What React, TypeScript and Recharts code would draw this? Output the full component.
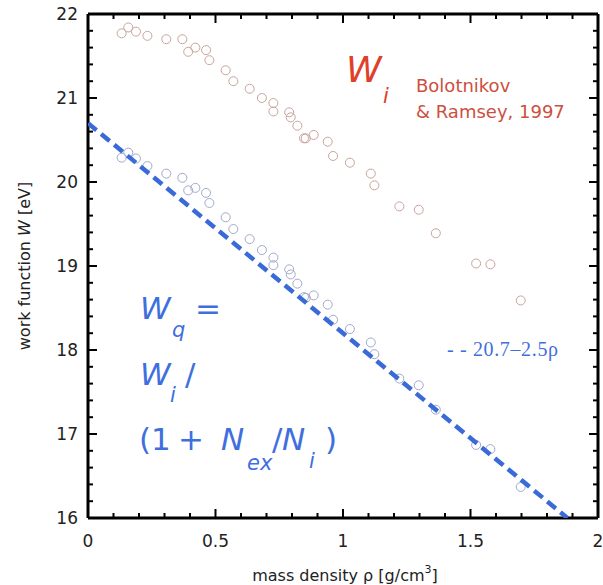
import { ScatterChart, Scatter, XAxis, YAxis } from 'recharts';

// mass density (g/cm3), shared by both sets of points
const rho = [
  0.132, 0.158, 0.188, 0.233, 0.307, 0.37, 0.393, 0.421, 0.463, 0.476, 0.54,
  0.57, 0.634, 0.682, 0.727, 0.727, 0.789, 0.795, 0.821, 0.847, 0.854, 0.885,
  0.94, 0.961, 1.027, 1.109, 1.123, 1.221, 1.297, 1.364, 1.522, 1.578, 1.697,
];
// W_i, Bolotnikov & Ramsey 1997
const wIon = [
  21.77, 21.84, 21.79, 21.74, 21.7, 21.7, 21.55, 21.6, 21.57, 21.45, 21.33,
  21.2, 21.11, 21.0, 20.94, 20.84, 20.83, 20.77, 20.67, 20.52, 20.52, 20.56,
  20.48, 20.31, 20.23, 20.1, 19.96, 19.71, 19.67, 19.39, 19.03, 19.02, 18.59,
];
// W_q
const wQuasi = [
  20.29, 20.35, 20.28, 20.19, 20.1, 20.05, 19.9, 19.93, 19.87, 19.75, 19.58,
  19.44, 19.32, 19.19, 19.1, 19.01, 18.96, 18.9, 18.79, 18.63, 18.62, 18.65,
  18.54, 18.36, 18.25, 18.09, 17.95, 17.66, 17.58, 17.29, 16.87, 16.82, 16.37,
];
// fit 20.7 - 2.5 rho, end points
const fitRho = [0, 1.88];
const fitW = [20.7, 16.0];

const xTicks = [
  0, 0.1, 0.2, 0.3, 0.4, 0.5, 0.6, 0.7, 0.8, 0.9, 1, 1.1, 1.2, 1.3, 1.4, 1.5,
  1.6, 1.7, 1.8, 1.9, 2,
];
const yTicks = [
  16, 16.2, 16.4, 16.6, 16.8, 17, 17.2, 17.4, 17.6, 17.8, 18, 18.2, 18.4, 18.6,
  18.8, 19, 19.2, 19.4, 19.6, 19.8, 20, 20.2, 20.4, 20.6, 20.8, 21, 21.2, 21.4,
  21.6, 21.8, 22,
];
const xLabels = ['0', '0.5', '1', '1.5', '2'];
const yLabels = ['16', '17', '18', '19', '20', '21', '22'];

const ionData = rho.map((r, i) => ({ x: r, y: wIon[i] }));
const quasiData = rho.map((r, i) => ({ x: r, y: wQuasi[i] }));
const fitData = fitRho.map((r, i) => ({ x: r, y: fitW[i] }));

const FONT = '"DejaVu Sans", sans-serif';
const BLUE = '#3f6fde';

function makeTick(side: 'bottom' | 'top' | 'left' | 'right', labels: string[]) {
  return (props: any) => {
    const { x, y, payload } = props;
    const label = String(payload.value);
    const major = labels.includes(label);
    const len = major ? 9 : 5;
    let x2 = x;
    let y2 = y;
    if (side === 'bottom') y2 = y - len;
    if (side === 'top') y2 = y + len;
    if (side === 'left') x2 = x + len;
    if (side === 'right') x2 = x - len;
    return (
      <g>
        <line x1={x} y1={y} x2={x2} y2={y2} stroke="#000" strokeWidth={2} />
        {major && side === 'bottom' && (
          <text x={x} y={y + 29} textAnchor="middle" fontFamily={FONT} fontSize={17} fill="#222">
            {label}
          </text>
        )}
        {major && side === 'left' && (
          <text x={x - 10} y={y} dy="0.36em" textAnchor="end" fontFamily={FONT} fontSize={17} fill="#222">
            {label}
          </text>
        )}
      </g>
    );
  };
}

const ring = (color: string) => (p: any) =>
  <circle cx={p.cx} cy={p.cy} r={4.5} fill="none" stroke={color} strokeWidth={1} />;

const axisLine = { stroke: '#000', strokeWidth: 3 };

export default function App() {
  return (
    <div style={{ position: 'absolute', left: 0, top: 0, width: 603, height: 585, background: '#fff' }}>
      <ScatterChart width={603} height={585} margin={{ top: 0, right: 0, bottom: 0, left: 0 }}>
        <XAxis
          xAxisId={0}
          type="number"
          dataKey="x"
          domain={[0, 2]}
          ticks={xTicks}
          interval={0}
          allowDataOverflow
          height={67}
          tickSize={0}
          tickMargin={0}
          tickLine={false}
          axisLine={axisLine}
          tick={makeTick('bottom', xLabels)}
        />
        <XAxis
          xAxisId="top"
          orientation="top"
          type="number"
          dataKey="x"
          domain={[0, 2]}
          ticks={xTicks}
          interval={0}
          allowDataOverflow
          height={14}
          tickSize={0}
          tickMargin={0}
          tickLine={false}
          axisLine={axisLine}
          tick={makeTick('top', xLabels)}
        />
        <YAxis
          yAxisId={0}
          type="number"
          dataKey="y"
          domain={[16, 22]}
          ticks={yTicks}
          interval={0}
          allowDataOverflow
          width={88}
          tickSize={0}
          tickMargin={0}
          tickLine={false}
          axisLine={axisLine}
          tick={makeTick('left', yLabels)}
        />
        <YAxis
          yAxisId="right"
          orientation="right"
          type="number"
          dataKey="y"
          domain={[16, 22]}
          ticks={yTicks}
          interval={0}
          allowDataOverflow
          width={5}
          tickSize={0}
          tickMargin={0}
          tickLine={false}
          axisLine={axisLine}
          tick={makeTick('right', yLabels)}
        />
        <Scatter data={ionData} shape={ring('#c9a49c')} isAnimationActive={false} />
        <Scatter data={quasiData} shape={ring('#a3a9cc')} isAnimationActive={false} />
        <Scatter
          data={fitData}
          shape={() => <g />}
          line={{ stroke: '#3a6ad8', strokeWidth: 4.5, strokeDasharray: '11 6' }}
          isAnimationActive={false}
        />
      </ScatterChart>

      <svg
        width={603}
        height={585}
        style={{ position: 'absolute', left: 0, top: 0, pointerEvents: 'none' }}
        fontFamily={FONT}
      >
        {/* axis titles */}
        <text x={345} y={581} textAnchor="middle" fontSize={16} fill="#222">
          mass density ρ [g/cm<tspan dy={-8} fontSize={11}>3</tspan>
          <tspan dy={8}>]</tspan>
        </text>
        <text transform="translate(30,266) rotate(-90)" textAnchor="middle" fontSize={16} fill="#222">
          work function <tspan fontStyle="italic">W</tspan> [eV]
        </text>

        {/* W_i label */}
        <text x={346} y={82} fontSize={36} fontStyle="italic" fill="#e0402a">W</text>
        <text x={383} y={103} fontSize={21} fontStyle="italic" fill="#e0402a">i</text>
        <text x={416} y={92} fontSize={18} fill="#cc5040">Bolotnikov</text>
        <text x={416} y={118} fontSize={18} fill="#cc5040">&amp; Ramsey, 1997</text>

        {/* fit legend */}
        <text
          x={447}
          y={356}
          fontFamily='"Liberation Serif", serif'
          fontSize={20}
          fill={BLUE}
          textLength={111}
          lengthAdjust="spacing"
        >
          - - 20.7–2.5ρ
        </text>

        {/* W_q formula */}
        <g fill={BLUE}>
          <text x={140} y={319} fontSize={31} fontStyle="italic">W</text>
          <text x={172} y={337} fontSize={21} fontStyle="italic">q</text>
          <text x={195} y={319} fontSize={31}>=</text>

          <text x={140} y={385} fontSize={31} fontStyle="italic">W</text>
          <text x={170} y={402} fontSize={21} fontStyle="italic">i</text>
          <text x={185} y={385} fontSize={31}>/</text>

          <text x={139} y={450} fontSize={31}>(1</text>
          <text x={178} y={450} fontSize={31}>+</text>
          <text x={221} y={450} fontSize={31} fontStyle="italic">N</text>
          <text x={247} y={470} fontSize={21} fontStyle="italic">ex</text>
          <text x={272} y={450} fontSize={31}>/</text>
          <text x={282} y={450} fontSize={31} fontStyle="italic">N</text>
          <text x={309} y={468} fontSize={21} fontStyle="italic">i</text>
          <text x={325} y={450} fontSize={31}>)</text>
        </g>
      </svg>
    </div>
  );
}
